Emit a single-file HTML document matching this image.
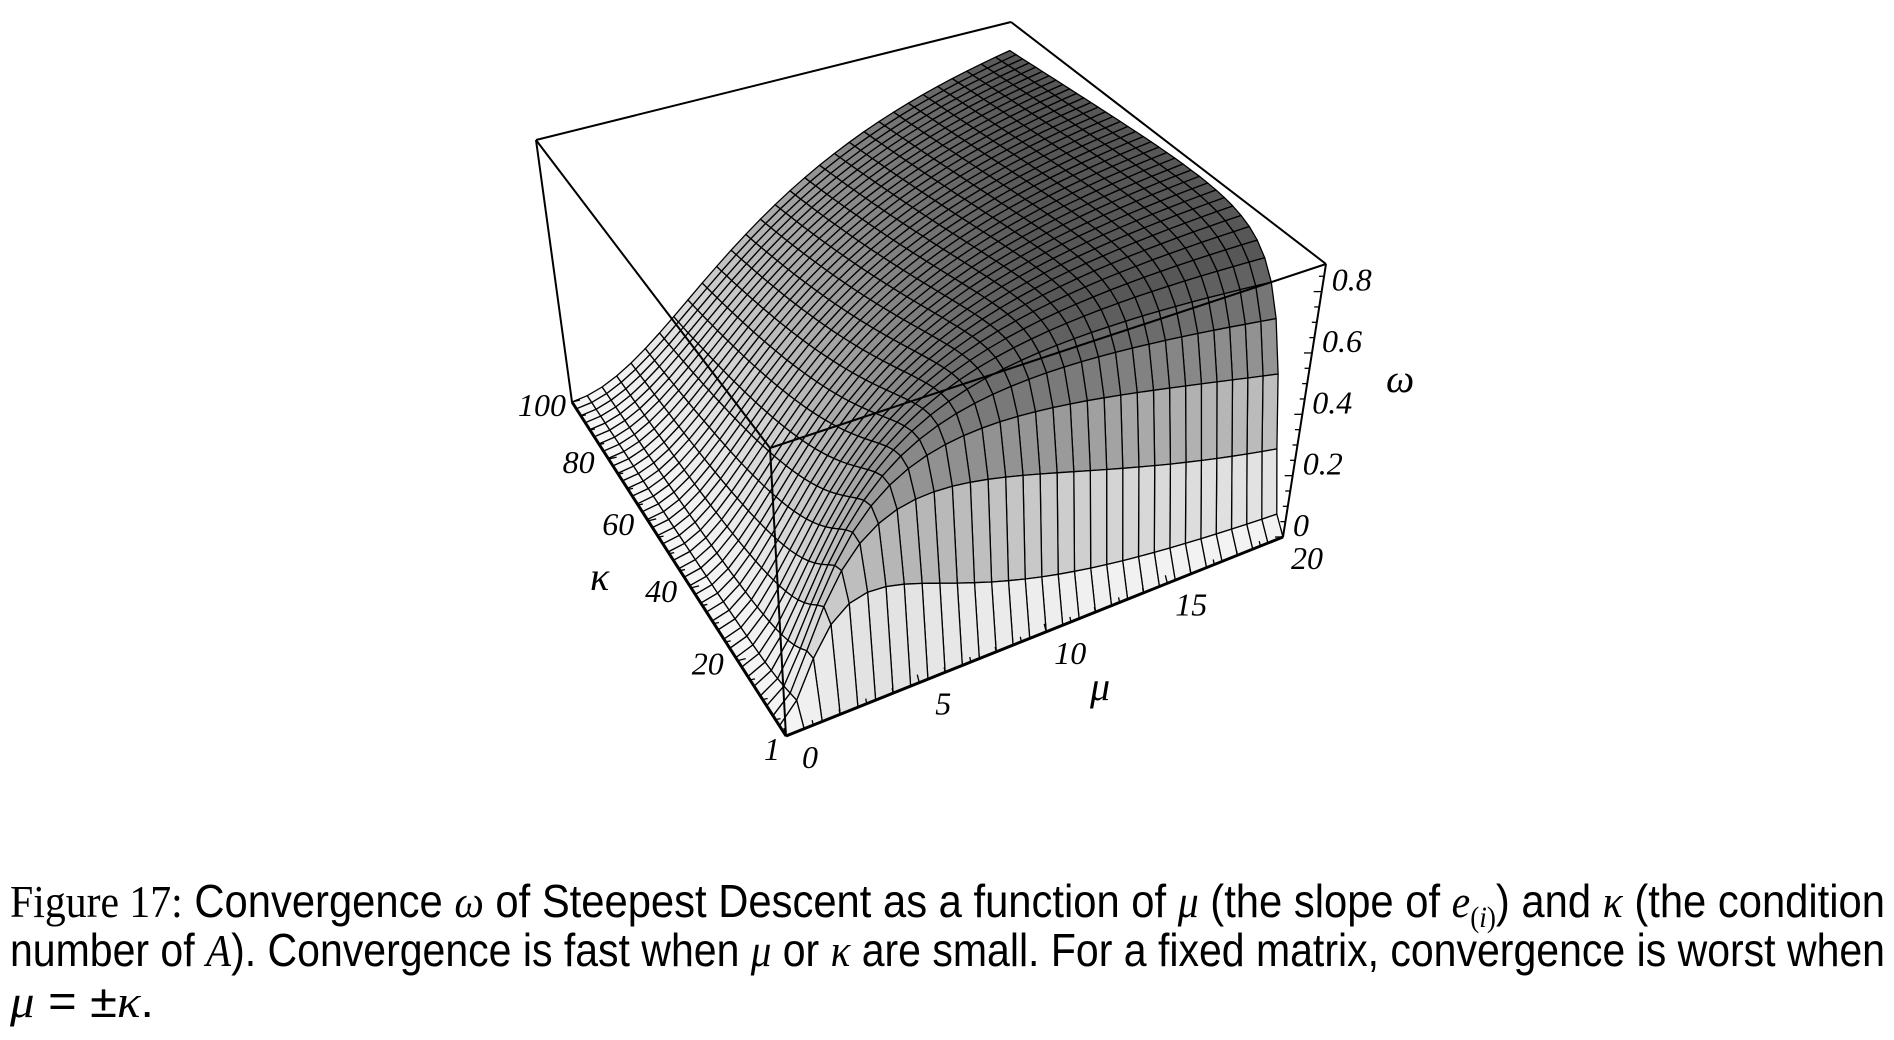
<!DOCTYPE html>
<html><head><meta charset="utf-8"><title>Figure 17</title>
<style>
html,body{margin:0;padding:0;background:#fff;}
svg{display:block;}
.tick{font-family:"Liberation Serif",serif;font-style:italic;font-size:32px;fill:#000;}
.axl{font-family:"Liberation Serif",serif;font-style:italic;font-size:40px;fill:#000;}
.cap{font-family:"Liberation Sans",sans-serif;font-size:46px;fill:#000;}
.capser{font-family:"Liberation Serif",serif;}
</style></head>
<body>
<svg id="fig" width="1894" height="1040" viewBox="0 0 1894 1040" xmlns="http://www.w3.org/2000/svg">
  <g id="box-back"></g>
  <g id="surface"></g>
  <g id="box-front"></g>
  <g id="ticks"></g>
  <g id="labels"></g>
  <text class="axl" x="590" y="590">κ</text>
  <text class="axl" x="1090" y="700">μ</text>
  <text class="axl" x="1386" y="392">ω</text>
  <g>
    <text class="cap" x="10" y="917" textLength="1875" lengthAdjust="spacingAndGlyphs"><tspan class="capser">Figure 17:</tspan> Convergence <tspan class="capser" font-style="italic">ω</tspan> of Steepest Descent as a function of <tspan class="capser" font-style="italic">μ</tspan> (the slope of <tspan class="capser" font-style="italic">e</tspan><tspan class="capser" font-size="30" dy="10">(<tspan font-style="italic">i</tspan>)</tspan><tspan dy="-10">) and </tspan><tspan class="capser" font-style="italic">κ</tspan> (the condition</text>
    <text class="cap" x="10" y="966" textLength="1875" lengthAdjust="spacingAndGlyphs">number of <tspan class="capser" font-style="italic">A</tspan>). Convergence is fast when <tspan class="capser" font-style="italic">μ</tspan> or <tspan class="capser" font-style="italic">κ</tspan> are small. For a fixed matrix, convergence is worst when</text>
    <text class="cap" x="10" y="1017" textLength="144" lengthAdjust="spacingAndGlyphs"><tspan class="capser" font-style="italic">μ</tspan> = ±<tspan class="capser" font-style="italic">κ</tspan>.</text>
  </g>
</svg>
<script>
const muTicks = [0, 5, 10, 15, 20];
const kappaTicks = [1, 20, 40, 60, 80, 100];
const omegaTicks = [0, 0.2, 0.4, 0.6, 0.8];
const muRange = [0, 20];
const kappaRange = [1, 100];
const omegaRange = [0, 0.89];
const muSteps = 30;
const kappaSteps = 40;

const NS = "http://www.w3.org/2000/svg";
function omegaOf(mu, k) {
  const a = (k*k + mu*mu); const num = a*a;
  const den = (k + mu*mu) * (k*k*k + mu*mu);
  const v = 1 - num/den;
  return v > 0 ? v : 0;
}
function solve(A, b) {
  const n = b.length;
  for (let i = 0; i < n; i++) {
    let p = i;
    for (let r = i+1; r < n; r++) if (Math.abs(A[r][i]) > Math.abs(A[p][i])) p = r;
    [A[i], A[p]] = [A[p], A[i]]; [b[i], b[p]] = [b[p], b[i]];
    for (let r = i+1; r < n; r++) {
      const f = A[r][i]/A[i][i];
      for (let c = i; c < n; c++) A[r][c] -= f*A[i][c];
      b[r] -= f*b[i];
    }
  }
  const x = new Array(n).fill(0);
  for (let i = n-1; i >= 0; i--) {
    let s = b[i];
    for (let c = i+1; c < n; c++) s -= A[i][c]*x[c];
    x[i] = s/A[i][i];
  }
  return x;
}
function homography(dst) {
  const src = [[0,0],[1,0],[1,1],[0,1]];
  const A = [], b = [];
  for (let i = 0; i < 4; i++) {
    const [x,y] = src[i], [X,Y] = dst[i];
    A.push([x,y,1,0,0,0,-x*X,-y*X]); b.push(X);
    A.push([0,0,0,x,y,1,-x*Y,-y*Y]); b.push(Y);
  }
  const h = solve(A, b);
  return (u,v) => {
    const w = h[6]*u + h[7]*v + 1;
    return [(h[0]*u + h[1]*v + h[2])/w, (h[3]*u + h[4]*v + h[5])/w];
  };
}
const bottomH = homography([[786,736],[1283,537],[1000,262],[572,402]]);
const topH = homography([[770,448],[1326,264],[1011,22],[536,140]]);
function uOf(mu){ return (mu - muRange[0])/(muRange[1]-muRange[0]); }
function vOf(k){ return (k - kappaRange[0])/(kappaRange[1]-kappaRange[0]); }
function proj(mu, k, z) {
  const u = uOf(mu), v = vOf(k), t = (z - omegaRange[0])/(omegaRange[1]-omegaRange[0]);
  const B = bottomH(u,v), T = topH(u,v);
  return [B[0] + (T[0]-B[0])*t, B[1] + (T[1]-B[1])*t];
}
function line(g, p, q, w) {
  const l = document.createElementNS(NS, "line");
  l.setAttribute("x1", p[0]); l.setAttribute("y1", p[1]);
  l.setAttribute("x2", q[0]); l.setAttribute("y2", q[1]);
  l.setAttribute("stroke", "#000"); l.setAttribute("stroke-width", w);
  
  
  g.appendChild(l);
  return l;
}
const m0 = muRange[0], m1 = muRange[1], k0 = kappaRange[0], k1 = kappaRange[1], z1 = omegaRange[1];

const back = document.getElementById("box-back");
line(back, proj(m0,k1,z1), proj(m1,k1,z1), 2);
line(back, proj(m1,k1,z1), proj(m1,k0,z1), 2);

const surf = document.getElementById("surface");
const quads = [];
for (let i = 0; i < muSteps; i++) {
  for (let j = 0; j < kappaSteps; j++) {
    const ma = m0 + (m1-m0)*i/muSteps, mb = m0 + (m1-m0)*(i+1)/muSteps;
    const ka = k0 + (k1-k0)*j/kappaSteps, kb = k0 + (k1-k0)*(j+1)/kappaSteps;
    const zs = [omegaOf(ma,ka), omegaOf(mb,ka), omegaOf(mb,kb), omegaOf(ma,kb)];
    const pts = [proj(ma,ka,zs[0]), proj(mb,ka,zs[1]), proj(mb,kb,zs[2]), proj(ma,kb,zs[3])];
    const g = bottomH(uOf((ma+mb)/2), vOf((ka+kb)/2));
    const zavg = (zs[0]+zs[1]+zs[2]+zs[3])/4;
    quads.push({pts, depth: g[1], zavg});
  }
}
quads.sort((a,b) => a.depth - b.depth);
for (const q of quads) {
  const t = Math.min(1, q.zavg/0.785);
  const gv = Math.round(245 - 158*Math.pow(t, 1.3));
  const p = document.createElementNS(NS, "polygon");
  p.setAttribute("points", q.pts.map(a => a[0].toFixed(1)+","+a[1].toFixed(1)).join(" "));
  p.setAttribute("fill", `rgb(${gv},${gv},${gv})`);
  p.setAttribute("stroke", "#000");
  p.setAttribute("stroke-width", "1.3");
  p.setAttribute("stroke-linejoin", "round");
  
  
  surf.appendChild(p);
}

const front = document.getElementById("box-front");
line(front, proj(m0,k1,z1), proj(m0,k0,z1), 2);
line(front, proj(m0,k0,z1), proj(m1,k0,z1), 2);
line(front, proj(m0,k1,0), proj(m0,k1,z1), 2);
line(front, proj(m0,k0,0), proj(m0,k0,z1), 2);
line(front, proj(m1,k0,0), proj(m1,k0,z1), 2);
line(front, proj(m0,k0,0), proj(m1,k0,0), 3);
line(front, proj(m0,k0,0), proj(m0,k1,0), 3);

const tg = document.getElementById("ticks");
const lg = document.getElementById("labels");
function label(txt, x, y, anchor, name) {
  const t = document.createElementNS(NS, "text");
  t.setAttribute("x", x.toFixed(1)); t.setAttribute("y", y.toFixed(1));
  t.setAttribute("class", "tick");
  t.setAttribute("text-anchor", anchor);
  t.textContent = txt;
  
  
  lg.appendChild(t);
}
for (let m = m0; m <= m1; m += 1) {
  const p = proj(m,k0,0), big = (m % 5 === 0);
  const l = line(tg, p, [p[0]+(big?-2:-1), p[1]+(big?-8:-5)], 1.3);
  
}
for (let k = 5; k <= k1; k += 5) {
  const p = proj(m0,k,0), big = (k % 20 === 0);
  const l = line(tg, p, [p[0]+(big?8:5), p[1]+(big?-2:-1)], 1.3);
  
}
for (let z = 0; z <= 0.8801; z += 0.05) {
  const p = proj(m1,k0,z), big = (Math.abs(z*5 - Math.round(z*5)) < 1e-6);
  const l = line(tg, p, [p[0]-(big?8:5), p[1]], 1.3);
  
}
for (const m of muTicks) {
  const p = proj(m,k0,0);
  label(String(m), p[0]+24, p[1]+32, "middle", "mu-tick-label");
}
for (const k of kappaTicks) {
  const p = proj(m0,k,0);
  if (k === 1) label(String(k), p[0]-14, p[1]+24, "middle", "kappa-tick-label");
  else label(String(k), p[0]-30, p[1]+14, "middle", "kappa-tick-label");
}
for (const z of omegaTicks) {
  const p = proj(m1,k0,z);
  label(String(z), p[0]+10, p[1]-1, "start", "omega-tick-label");
}
</script>
</body></html>
